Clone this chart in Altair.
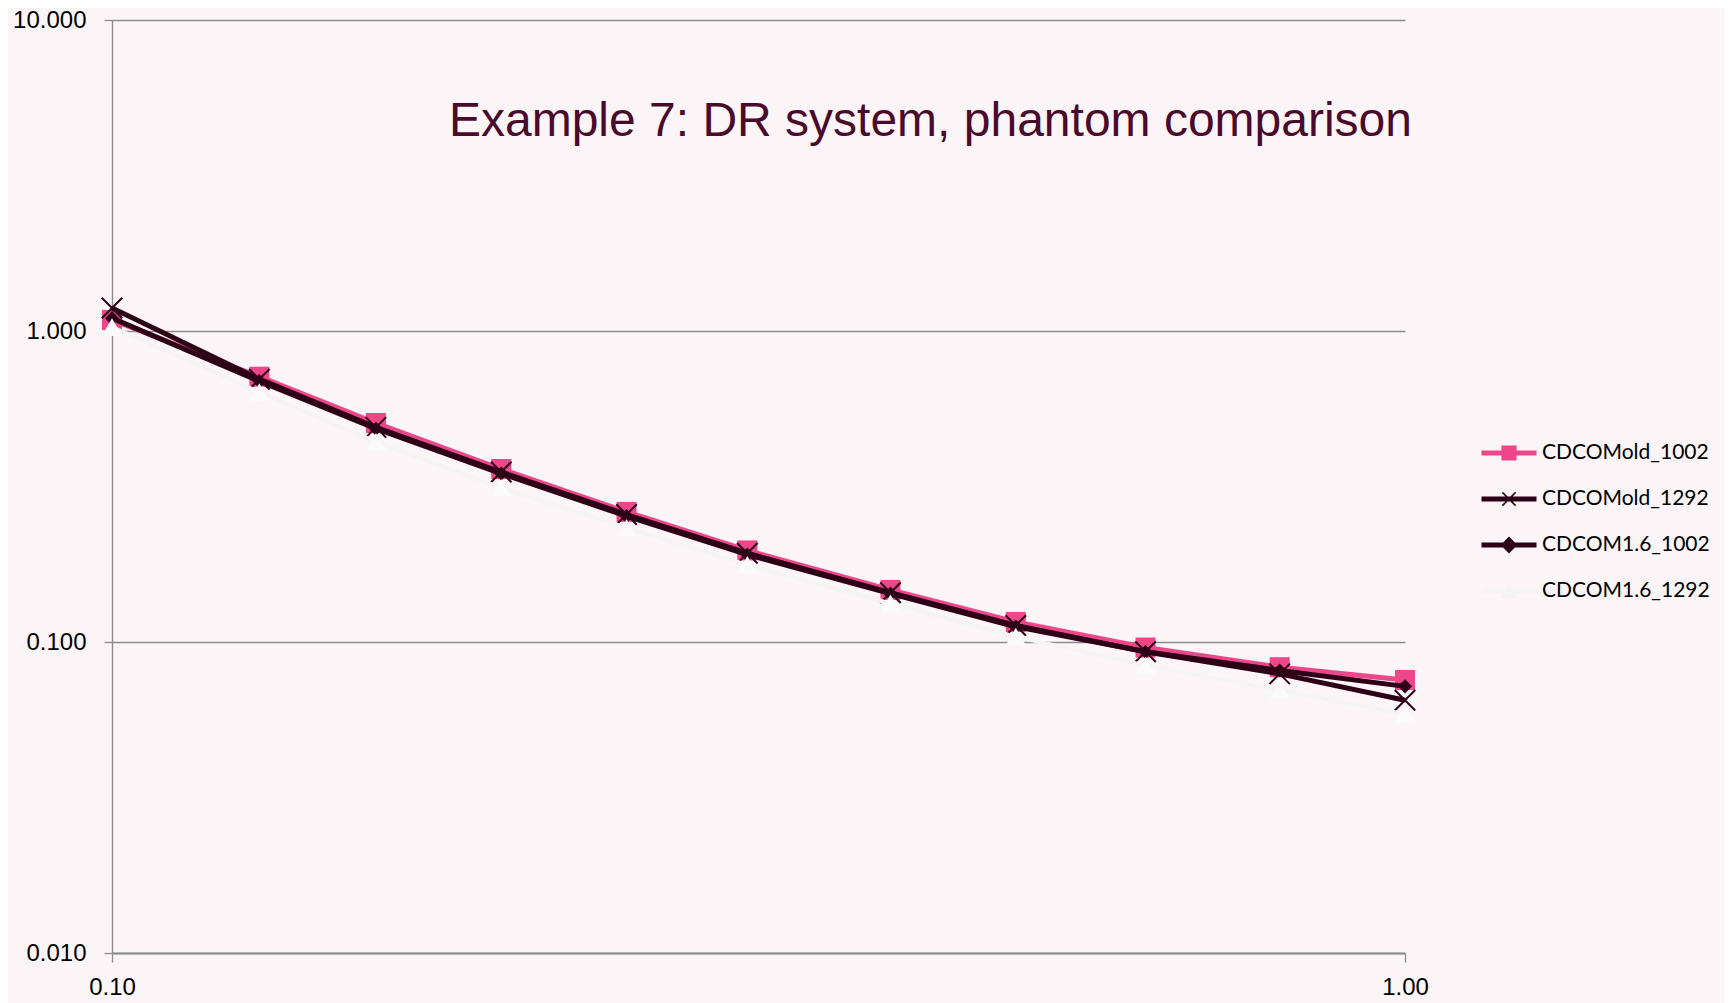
import altair as alt
import pandas as pd

# ---- data ----
x_vals = [0.10, 0.13, 0.16, 0.20, 0.25, 0.31, 0.40, 0.50, 0.63, 0.80, 1.00]
series_names = ["CDCOMold_1002", "CDCOMold_1292", "CDCOM1.6_1002", "CDCOM1.6_1292"]
cdcomold_1002 = [1.085, 0.713, 0.506, 0.360, 0.262, 0.197, 0.147, 0.116, 0.096, 0.083, 0.0755]
cdcomold_1292 = [1.186, 0.700, 0.490, 0.352, 0.257, 0.193, 0.144, 0.113, 0.093, 0.079, 0.065]
cdcom16_1002 = [1.100, 0.690, 0.485, 0.348, 0.254, 0.191, 0.143, 0.112, 0.093, 0.081, 0.072]
cdcom16_1292 = [1.030, 0.636, 0.440, 0.313, 0.233, 0.177, 0.133, 0.104, 0.084, 0.070, 0.0586]
x_ticks = [0.1, 1.0]
y_ticks = [0.01, 0.1, 1.0, 10.0]
title_text = "Example 7: DR system, phantom comparison"

all_series = [cdcomold_1002, cdcomold_1292, cdcom16_1002, cdcom16_1292]
rows = []
for name, vals in zip(series_names, all_series):
    for xv, yv in zip(x_vals, vals):
        rows.append({"x": xv, "y": yv, "series": name})
df = pd.DataFrame(rows)

# ---- styles ----
PINK = "#EE468B"
DARK = "#2E0018"
WHITE = "#F6F3F4"
GRAY = "#8C8C8C"
BG = "#FBF5F7"
colors = [PINK, DARK, DARK, WHITE]

PW, PH = 1293, 933

# legend symbols: line + marker (unit box = 40px)
line_p = "M-1.375,-0.12L1.375,-0.12L1.375,0.12L-1.375,0.12Z"
sq_p = "M-0.38,-0.38L0.38,-0.38L0.38,0.38L-0.38,0.38Z"
x_p = ("M-0.36,-0.30L-0.30,-0.36L0.36,0.30L0.30,0.36Z"
       "M0.30,-0.36L0.36,-0.30L-0.30,0.36L-0.36,0.30Z")
dia_p = "M0,-0.42L0.42,0L0,0.42L-0.42,0Z"
tri_p = "M0,-0.42L0.42,0.36L-0.42,0.36Z"
legend_paths = [line_p + sq_p, line_p + x_p, line_p + dia_p, line_p + tri_p]

x_enc = alt.X(
    "x:Q",
    scale=alt.Scale(type="log", domain=[0.1, 1.0], nice=False),
    axis=alt.Axis(values=x_ticks, format=".2f", title=None, grid=False,
                  tickSize=9, tickColor=GRAY, tickWidth=1.3,
                  domainColor=GRAY, domainWidth=2,
                  labelFont="Liberation Sans", labelFontSize=24,
                  labelColor="#000000", labelPadding=13, labelFlush=False),
)
y_enc = alt.Y(
    "y:Q",
    scale=alt.Scale(type="log", domain=[0.01, 10.0], nice=False),
    axis=alt.Axis(values=y_ticks, format=".3f", title=None, grid=True,
                  gridColor=GRAY, gridWidth=1.4,
                  tickSize=8, tickColor=GRAY, tickWidth=1.3,
                  domainColor=GRAY, domainWidth=1.4,
                  labelFont="Liberation Sans", labelFontSize=24,
                  labelColor="#000000", labelPadding=18, labelFlush=False),
)

legend_cfg = dict(title=None, orient="none", legendX=1377, legendY=413,
                  symbolSize=1600, symbolOpacity=1, symbolStrokeWidth=0,
                  labelFont="Lato", labelFontSize=21, labelColor="#000000",
                  labelLimit=0, labelOffset=13, rowPadding=16, padding=0)

base = alt.Chart(df)

legend_layer = base.mark_point(filled=True, opacity=0, size=1600).encode(
    x=x_enc, y=y_enc,
    color=alt.Color("series:N", scale=alt.Scale(domain=series_names, range=colors),
                    legend=alt.Legend(**legend_cfg)),
    shape=alt.Shape("series:N", scale=alt.Scale(domain=series_names, range=legend_paths),
                    legend=alt.Legend(**legend_cfg)),
)

layers = [legend_layer]
marker_specs = [
    dict(shape="square", filled=True, size=400, color=PINK),
    dict(shape="M-1,-1L1,1M-1,1L1,-1", filled=False, size=420, color=DARK, strokeWidth=2),
    dict(shape="diamond", filled=True, size=200, color=DARK),
    dict(shape="triangle-up", filled=True, size=420, color="#FAFAFA"),
]
line_widths = [5, 5, 5, 4]
for name, col, lw, ms in zip(series_names, colors, line_widths, marker_specs):
    sub = base.transform_filter(alt.datum.series == name)
    layers.append(sub.mark_line(color=col, strokeWidth=lw).encode(x=x_enc, y=y_enc))
    layers.append(sub.mark_point(opacity=1, **ms).encode(x=x_enc, y=y_enc))

title_layer = alt.Chart(pd.DataFrame({"label": [title_text]})).mark_text(
    align="right", baseline="middle", font="Liberation Sans", fontSize=48, color="#4A0A2C"
).encode(text="label:N", x=alt.value(PW + 7), y=alt.value(102))
layers.append(title_layer)

chart = alt.layer(*layers).properties(
    width=PW, height=PH, background=BG,
    autosize=alt.AutoSizeParams(type="none"),
    padding={"left": 104, "top": 12, "right": 320, "bottom": 52},
).configure_view(stroke=None)

chart.save("out.html", embed_options={"renderer": "svg", "actions": False})
